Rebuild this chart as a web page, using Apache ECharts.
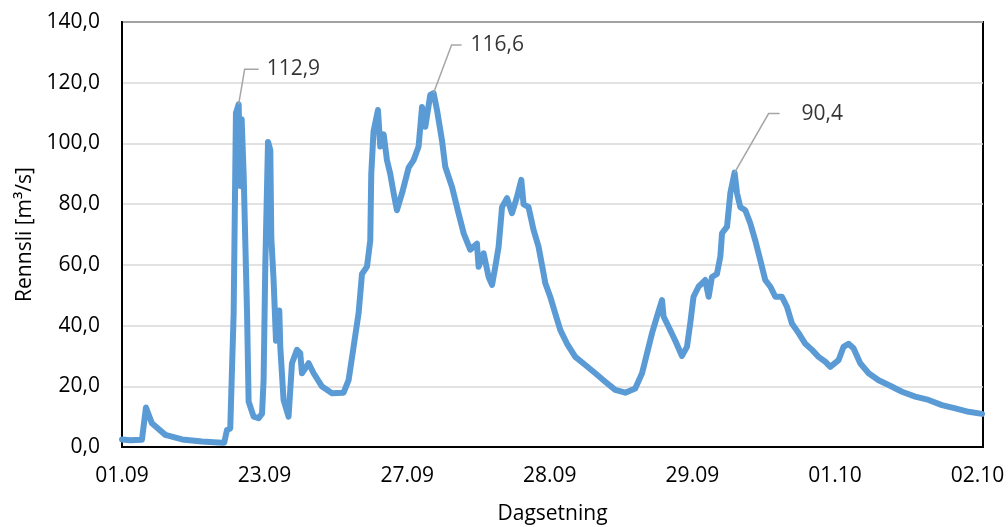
<!DOCTYPE html>
<html>
<head>
<meta charset="utf-8">
<script src="https://cdn.jsdelivr.net/npm/echarts@6/dist/echarts.min.js"></script>
<style>
    html, body { margin: 0; padding: 0; background: #fff; }
    #chart { width: 1008px; height: 527px; }
</style>
</head>
<body>
<div id="chart"></div>
<script>
// x is measured in label steps (0 = 01.09, 1 = 23.09, ...), the axis is not linear in time
const tickLabels = ['01.09', '23.09', '27.09', '28.09', '29.09', '01.10', '02.10'];
const xEnd = 6.038;

const flowX = [
    0.000, 0.058, 0.140, 0.168, 0.210, 0.304, 0.421, 0.561, 0.701, 0.717,
    0.736, 0.759, 0.783, 0.799, 0.818, 0.830, 0.839, 0.853, 0.877, 0.888,
    0.923, 0.958, 0.982, 0.993, 1.005, 1.024, 1.040, 1.047, 1.063, 1.080,
    1.103, 1.110, 1.133, 1.168, 1.180, 1.192, 1.227, 1.250, 1.262, 1.309,
    1.344, 1.403, 1.473, 1.554, 1.589, 1.624, 1.659, 1.683, 1.718, 1.741,
    1.748, 1.764, 1.795, 1.811, 1.835, 1.858, 1.881, 1.905, 1.928, 1.940,
    1.964, 2.010, 2.045, 2.080, 2.104, 2.127, 2.162, 2.185, 2.209, 2.244,
    2.267, 2.314, 2.360, 2.396, 2.442, 2.489, 2.501, 2.536, 2.571, 2.595,
    2.618, 2.641, 2.665, 2.700, 2.735, 2.770, 2.800, 2.816, 2.851, 2.886,
    2.921, 2.957, 2.968, 3.003, 3.038, 3.074, 3.121, 3.179, 3.249, 3.319,
    3.389, 3.459, 3.529, 3.599, 3.647, 3.682, 3.717, 3.752, 3.787, 3.798,
    3.833, 3.880, 3.927, 3.962, 3.985, 4.008, 4.043, 4.090, 4.114, 4.137,
    4.172, 4.196, 4.208, 4.243, 4.266, 4.296, 4.313, 4.336, 4.371, 4.406,
    4.441, 4.476, 4.511, 4.547, 4.582, 4.628, 4.663, 4.698, 4.745, 4.792,
    4.839, 4.885, 4.932, 4.967, 5.025, 5.060, 5.095, 5.130, 5.177, 5.236,
    5.306, 5.376, 5.470, 5.563, 5.656, 5.750, 5.844, 5.937, 6.031
];
const flowY = [
    2.5, 2.2, 2.4, 13.0, 7.8, 4.0, 2.5, 1.8, 1.4, 1.4,
    5.6, 6.1, 44, 110, 112.9, 86, 108, 90, 44, 15,
    10, 9.5, 11, 22, 60, 100.5, 97.8, 69, 55, 35,
    45, 33, 15.5, 10, 10, 27.6, 32, 30.9, 24.3, 27.6,
    24.3, 19.9, 17.7, 17.9, 22, 33, 44, 57, 59.4, 68,
    90, 104, 111, 99, 103, 94.5, 90, 83.6, 78, 78,
    83.6, 92, 94.5, 99, 112, 105.5, 116, 116.6, 111, 101,
    92.3, 85.7, 77, 70.4, 65, 67, 59.4, 63.8, 56, 53.4,
    59.4, 66, 79, 82, 77, 82.4, 88, 80, 79, 71.5,
    66, 57, 54, 49.5, 44, 38.5, 34, 29.7, 27, 24.3,
    21.5, 18.8, 17.9, 19.3, 24.3, 30.9, 37.5, 43, 48.4, 43,
    39.6, 35, 30, 33, 40.7, 49.5, 52.8, 55, 49.5, 56,
    57, 62.7, 70.4, 72.6, 83.6, 90.4, 83.6, 79, 78, 73.7,
    68, 61.6, 55, 52.8, 49.5, 49.5, 46.2, 40.7, 37.5, 34,
    32, 29.7, 28.1, 26.4, 28.6, 33, 34, 32.5, 27.6, 24.3,
    22, 20.4, 18.2, 16.6, 15.5, 13.8, 12.7, 11.6, 10.9
];

// annotated peaks
const peakX = [0.818, 2.185, 4.296];
const peakY = [112.9, 116.6, 90.4];

// label placement (pixels) for the annotations
const labelShift = [[15, -35], [23, -48], [40, -59]];
const labelGap = [8, 9, 22];
// leader line: bend offset from the peak and length of the horizontal stub
const leaderBend = [[6, -35], [18, -48], [34, -59]];
const leaderLen = [14, 10, 11];

const fmt = v => v.toFixed(1).replace('.', ',');
const font = '"Open Sans", sans-serif';

const chart = echarts.init(document.getElementById('chart'));
chart.setOption({
    animation: false,
    grid: {
        left: 122, right: 25, top: 22, bottom: 80,
        outerBoundsMode: 'none',
        show: true, borderColor: '#000', borderWidth: 2, backgroundColor: '#fff'
    },
    xAxis: {
        type: 'value',
        min: 0,
        max: xEnd,
        interval: 1,
        name: 'Dagsetning',
        nameLocation: 'middle',
        nameGap: 57,
        nameTextStyle: { fontFamily: font, fontSize: 21, color: '#000' },
        axisLine: { lineStyle: { color: '#000', width: 2 } },
        axisTick: { show: false },
        splitLine: { show: false },
        axisLabel: {
            margin: 19,
            fontFamily: font, fontSize: 21, color: '#000',
            showMaxLabel: false,
            formatter: v => Number.isInteger(v) ? tickLabels[v] : ''
        }
    },
    yAxis: {
        type: 'value',
        min: 0,
        max: 140,
        interval: 20,
        name: 'Rennsli [m³/s]',
        nameLocation: 'middle',
        nameGap: 84,
        nameTextStyle: { fontFamily: font, fontSize: 21, color: '#000' },
        axisLine: { show: true, lineStyle: { color: '#000', width: 2 } },
        axisTick: { show: false },
        splitLine: { lineStyle: { color: '#D9D9D9', width: 1.5 } },
        axisLabel: {
            margin: 22,
            fontFamily: font, fontSize: 21, color: '#000',
            formatter: fmt
        }
    },
    series: [
        {
            type: 'line',
            data: flowX.map((x, i) => [x, flowY[i]]),
            showSymbol: false,
            lineStyle: { color: '#5B9BD5', width: 6, join: 'round', cap: 'round' },
            z: 2
        },
        {
            type: 'scatter',
            symbolSize: 0,
            data: peakX.map((x, i) => ({
                value: [x, peakY[i]],
                label: { padding: [0, 0, 0, labelGap[i]] }
            })),
            label: {
                show: true,
                position: 'right',
                distance: 5,
                fontFamily: font, fontSize: 21, color: '#000',
                formatter: p => fmt(p.value[1])
            },
            labelLayout: p => ({ dx: labelShift[p.dataIndex][0], dy: labelShift[p.dataIndex][1] }),
            z: 3
        }
    ]
});

// leader lines, anchored at the peaks through the chart's own scales
const leaders = peakX.map((x, i) => {
    const pt = chart.convertToPixel({ gridIndex: 0 }, [x, peakY[i]]);
    const bx = pt[0] + leaderBend[i][0];
    const by = pt[1] + leaderBend[i][1];
    return {
        type: 'polyline',
        z: 10,
        shape: { points: [pt, [bx, by], [bx + leaderLen[i], by]] },
        style: { stroke: '#A6A6A6', lineWidth: 1.5, fill: null }
    };
});
chart.setOption({ graphic: leaders });
</script>
</body>
</html>
